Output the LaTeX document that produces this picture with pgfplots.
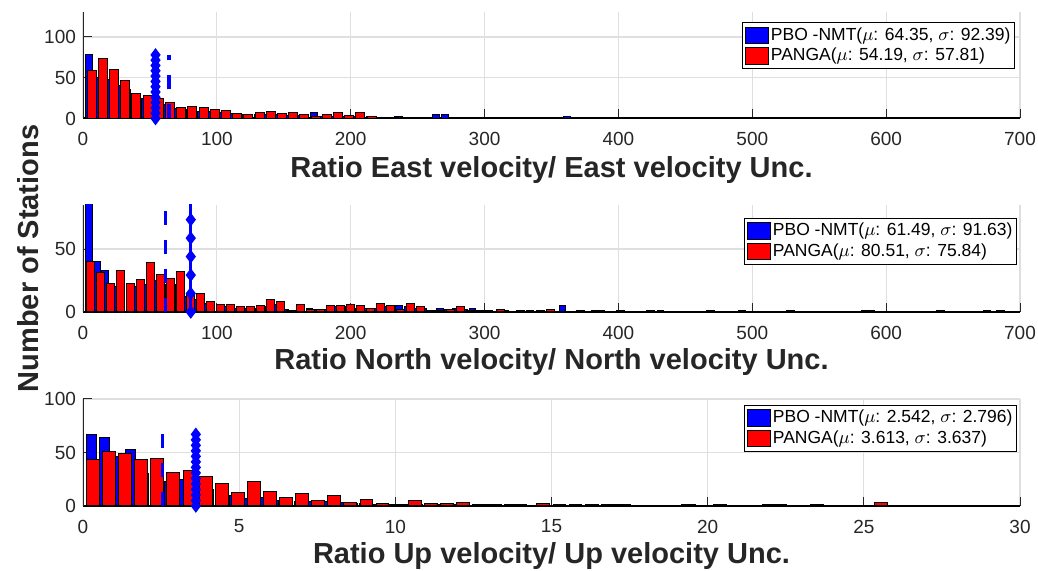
\documentclass[border=0pt]{standalone}
\usepackage{fontspec}
\setmainfont{Liberation Sans}
\usepackage{pgfplots}
\pgfplotsset{compat=1.18}
\definecolor{axisgray}{RGB}{38,38,38}
\definecolor{gridgray}{RGB}{223,223,223}
\pgfplotsset{
 myaxis/.style={
  scale only axis, width=468.5pt, anchor=south west,
  axis lines*=left,
  x axis line style={-, color=black, line width=1pt},
  y axis line style={-, color=axisgray, line width=0.5pt},
  xtick pos=bottom, ytick pos=left,
  tick align=inside, major tick length=4.5pt,
  tick style={color=axisgray, line width=0.5pt},
  grid=major, major grid style={color=gridgray, line width=0.6pt},
  ymin=0, xmin=0, enlargelimits=false,
  tick label style={font=\fontsize{9.5}{11}\selectfont, color=axisgray},
  xticklabel style={yshift=-3.4pt},
  /pgf/number format/assume math mode=true,
  label style={font=\bfseries\fontsize{14.5}{17}\selectfont, color=axisgray},
  xlabel style={at={(axis description cs:0.5,0)}, anchor=center, yshift=-25pt},
  legend cell align=left,
  legend style={draw=black, line width=0.5pt, fill=white,
    font=\fontsize{8.75}{10}\selectfont, inner sep=1.2pt, row sep=0pt,
    nodes={inner sep=0.8pt, text height=6.6pt, text depth=2pt},
    at={(rel axis cs:1,1)}, anchor=north east},
  legend image code/.code={\draw[#1, draw=black, line width=0.5pt] (0pt,-4.2pt) rectangle (11.6pt,4.2pt);},
 },
 bblue/.style={ybar, bar shift=0pt, fill=blue, draw=black, line width=0.5pt},
 bred/.style={ybar, bar shift=0pt, fill=red, draw=black, line width=0.5pt},
 dashl/.style={blue, line width=1.65pt, dash pattern=on 7.2pt off 7.3pt, forget plot},
 diaml/.style={blue, line width=1.5pt, mark=diamond*, mark size=3pt, mark options={solid, fill=blue, draw=blue, line width=0.5pt}, forget plot},
}
\begin{document}
\begin{tikzpicture}
\useasboundingbox (0,0) rectangle (519pt,285.5pt);
% ---------------- Panel 1: East ----------------
\begin{axis}[myaxis, at={(41.5pt,226.25pt)}, height=53pt,
  xmax=700, ymax=130, xtick={0,100,200,300,400,500,600,700}, ytick={0,50,100},
  xlabel={Ratio East velocity/ East velocity Unc.},
  xlabel style={yshift=-0.75pt},
  legend style={xshift=-2.5pt, yshift=-5pt}]
\addplot[bblue, bar width=5.6] coordinates {
(4.6,78) (11.6,50) (18.6,48) (25.6,40) (32.6,35) (39.6,28) (46.6,24) (53.6,20)
(60.6,17) (67.6,12) (74.6,11) (81.6,10) (88.6,9) (95.6,8) (102.6,7) (109.6,6)
(116.6,5) (123.6,4) (130.6,5) (137.6,5) (144.6,5) (151.6,4) (158.6,4) (165.6,3)
(172.6,7) (179.6,2) (186.6,3) (193.6,3) (200.6,3) (207.6,4) (214.6,2) (221.6,1)
(228.6,1) (235.6,3) (242.6,1) (249.6,1) (263.6,5) (270.6,5) (277.6,1) (284.6,1)
(298.6,1) (305.6,1) (319.6,1) (333.6,1) (347.6,1) (361.6,3) (389.6,1) (424.6,1)
(480.6,1) (529.6,1) (592.6,1) (634.6,1) (683.6,1)};
\addlegendentry{PBO -NMT($\mu$: 64.35, $\sigma$: 92.39)}
\addplot[bred, bar width=6.7] coordinates {
(6.39,59) (14.76,73) (23.13,60) (31.50,47) (39.87,31) (48.24,28) (56.61,25) (64.98,20)
(73.35,13) (81.72,15) (90.09,13) (98.46,11) (106.83,10) (115.20,6) (123.57,5) (131.94,7)
(140.31,9) (148.68,6) (157.05,7) (165.42,5) (173.79,2) (182.16,5) (190.53,7) (198.90,4)
(207.27,7) (215.64,2) (224.01,1) (232.38,1) (240.75,1) (257.49,1) (290.97,1) (299.34,1)
(324.45,1) (349.56,1) (374.67,1) (424.89,1) (475.11,1) (533.70,1) (592.29,1) (642.51,1)
(684.36,1)};
\addlegendentry{PANGA($\mu$: 54.19, $\sigma$: 57.81)}
\addplot[dashl] coordinates {(64.35,0) (64.35,78)};
\addplot[diaml] coordinates {(54.19,0) (54.19,6.5) (54.19,13) (54.19,19.5) (54.19,26)
(54.19,32.5) (54.19,39) (54.19,45.5) (54.19,52) (54.19,58.5) (54.19,65) (54.19,71.5) (54.19,78)};
\end{axis}
% ---------------- Panel 2: North ----------------
\begin{axis}[myaxis, at={(41.5pt,129.5pt)}, height=53.5pt,
  xmax=700, ymax=85, xtick={0,100,200,300,400,500,600,700}, ytick={0,50},
  xlabel={Ratio North velocity/ North velocity Unc.},
  ylabel={Number of Stations},
  ylabel style={at={(axis description cs:-0.0587,0.5)}, anchor=center},
  legend style={xshift=-1.5pt, yshift=-6.5pt}]
\addplot[bblue, bar width=4.88] coordinates {
(4.35,88) (10.45,40) (16.55,33) (22.65,20) (28.75,25) (34.85,18) (40.95,20) (47.05,22)
(53.15,25) (59.25,22) (65.35,20) (71.45,22) (77.55,12) (83.65,10) (89.75,7) (95.85,6)
(101.95,5) (108.05,4) (114.15,3) (120.25,3) (126.35,3) (132.45,4) (138.55,4) (144.65,6)
(150.75,2) (156.85,1) (162.95,3) (169.05,3) (175.15,2) (181.25,2) (187.35,4) (193.45,4)
(199.55,4) (205.65,3) (211.75,3) (217.85,3) (223.95,4) (230.05,3) (236.15,5) (242.25,4)
(248.35,3) (254.45,3) (260.55,1) (266.65,3) (272.75,2) (278.85,3) (284.95,2) (291.05,3)
(297.15,1) (303.25,1) (315.45,1) (333.75,1) (358.15,5) (382.55,1) (431.35,1) (492.35,1)
(583.85,1) (675.35,1)};
\addlegendentry{PBO -NMT($\mu$: 61.49, $\sigma$: 91.63)}
\addplot[bred, bar width=5.98] coordinates {
(5.94,40) (13.41,31) (20.88,23) (28.35,33) (35.82,23) (43.29,26) (50.76,39) (58.23,30)
(65.70,27) (73.17,32) (80.64,15) (88.11,15) (95.58,8) (103.05,6) (110.52,6) (117.99,4)
(125.46,4) (132.93,5) (140.40,10) (147.87,8) (155.34,1) (162.81,6) (170.28,2) (177.75,2)
(185.22,5) (192.69,5) (200.16,6) (207.63,5) (215.10,3) (222.57,7) (230.04,5) (237.51,2)
(244.98,7) (252.45,4) (259.92,1) (267.39,1) (274.86,2) (282.33,4) (289.80,1) (297.27,1)
(312.21,2) (327.15,1) (342.09,1) (349.56,2) (371.97,1) (386.91,1) (401.85,1) (424.26,1)
(469.08,1) (528.84,1) (588.60,1) (640.89,1) (685.71,1)};
\addlegendentry{PANGA($\mu$: 80.51, $\sigma$: 75.84)}
\addplot[dashl] coordinates {(61.49,0) (61.49,88)};
\addplot[diaml] coordinates {(80.51,0) (80.51,14.67) (80.51,29.33) (80.51,44)
(80.51,58.67) (80.51,73.33) (80.51,88)};
\end{axis}
% ---------------- Panel 3: Up ----------------
\begin{axis}[myaxis, at={(41.5pt,32.5pt)}, height=53.5pt,
  xmax=30, ymax=100, xtick={0,5,10,15,20,25,30}, ytick={0,50,100},
  xlabel={Ratio Up velocity/ Up velocity Unc.},
  legend style={xshift=-1.5pt, yshift=-3pt}]
\addplot[bblue, bar width=0.334] coordinates {
(0.267,67) (0.684,64) (1.101,46) (1.518,53) (1.935,30) (2.352,35) (2.769,23) (3.186,25)
(3.603,25) (4.020,15) (4.437,14) (4.854,10) (5.271,7) (5.688,8) (6.105,5) (6.522,5)
(6.939,4) (7.356,4) (7.773,4) (8.190,3) (8.607,2) (9.024,2) (9.441,1) (9.858,1)
(10.275,1) (10.692,1) (11.526,1) (11.943,1) (12.777,1) (14.028,1) (15.279,1) (16.947,1)
(19.449,1) (22.368,1)};
\addlegendentry{PBO -NMT($\mu$: 2.542, $\sigma$: 2.796)}
\addplot[bred, bar width=0.412] coordinates {
(0.320,43) (0.835,51) (1.350,49) (1.865,43) (2.380,44) (2.895,31) (3.410,33) (3.925,28)
(4.440,21) (4.955,13) (5.470,23) (5.985,14) (6.500,8) (7.015,12) (7.530,5) (8.045,10)
(8.560,3) (9.075,6) (9.590,2) (10.105,1) (10.620,5) (11.135,2) (11.650,2) (12.165,3)
(12.680,1) (13.195,1) (13.710,1) (14.740,2) (15.255,1) (15.770,1) (16.285,1) (16.800,1)
(17.315,1) (19.375,1) (20.405,1) (21.950,1) (23.495,1) (25.555,3)};
\addlegendentry{PANGA($\mu$: 3.613, $\sigma$: 3.637)}
\addplot[dashl] coordinates {(2.542,0) (2.542,67)};
\addplot[diaml] coordinates {(3.613,0) (3.613,5.15) (3.613,10.31) (3.613,15.46) (3.613,20.62)
(3.613,25.77) (3.613,30.92) (3.613,36.08) (3.613,41.23) (3.613,46.38) (3.613,51.54)
(3.613,56.69) (3.613,61.85) (3.613,67)};
\end{axis}
\end{tikzpicture}
\end{document}
